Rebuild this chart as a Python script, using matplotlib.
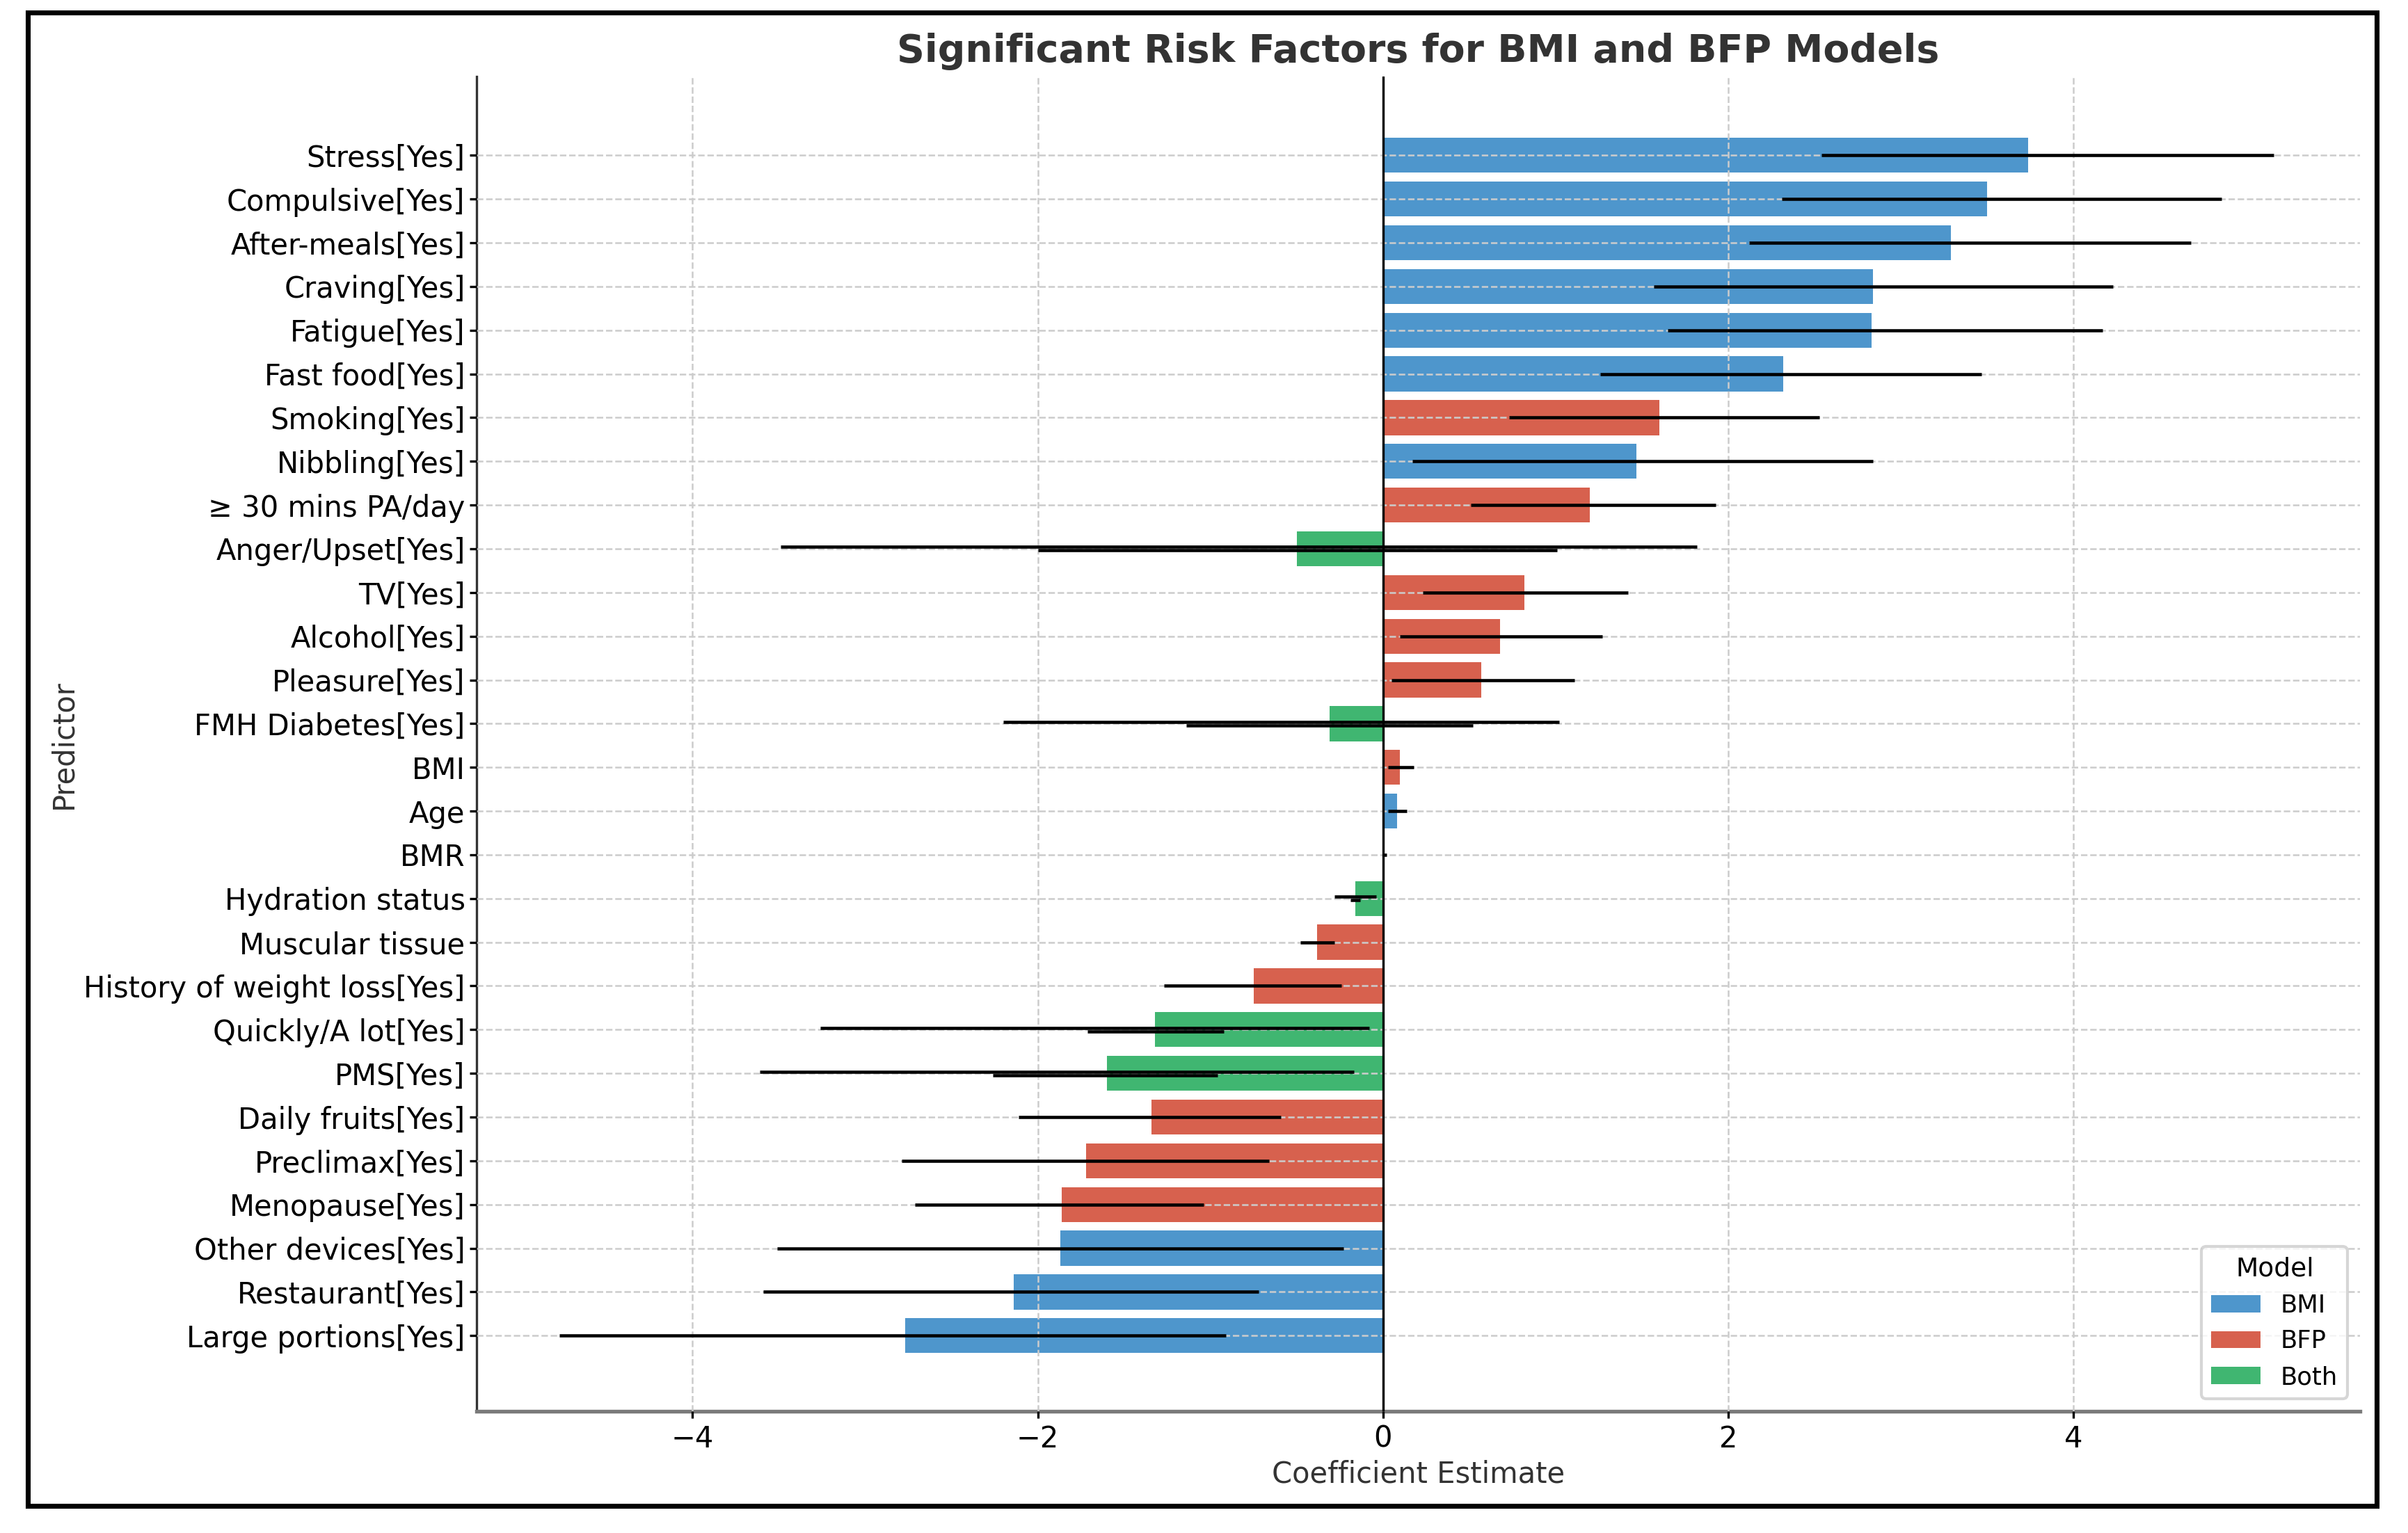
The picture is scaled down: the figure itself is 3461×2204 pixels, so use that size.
import matplotlib
matplotlib.use("Agg")
import matplotlib.pyplot as plt
from matplotlib.patches import Patch, Rectangle

PREDICTORS = [
    "Stress[Yes]", "Compulsive[Yes]", "After-meals[Yes]", "Craving[Yes]",
    "Fatigue[Yes]", "Fast food[Yes]", "Smoking[Yes]", "Nibbling[Yes]",
    "\u2265 30 mins PA/day", "Anger/Upset[Yes]", "TV[Yes]", "Alcohol[Yes]",
    "Pleasure[Yes]", "FMH Diabetes[Yes]", "BMI", "Age", "BMR",
    "Hydration status", "Muscular tissue", "History of weight loss[Yes]",
    "Quickly/A lot[Yes]", "PMS[Yes]", "Daily fruits[Yes]", "Preclimax[Yes]",
    "Menopause[Yes]", "Other devices[Yes]", "Restaurant[Yes]",
    "Large portions[Yes]",
]
MODELS = [
    "BMI", "BMI", "BMI", "BMI", "BMI", "BMI", "BFP", "BMI", "BFP", "Both",
    "BFP", "BFP", "BFP", "Both", "BFP", "BMI", "BMI", "Both", "BFP", "BFP",
    "Both", "Both", "BFP", "BFP", "BFP", "BMI", "BMI", "BMI",
]
ESTIMATES = [
    3.74, 3.50, 3.29, 2.84, 2.83, 2.32, 1.60, 1.47, 1.20, -0.50,
    0.82, 0.68, 0.57, -0.31, 0.10, 0.08, 0.01, -0.16, -0.38, -0.75,
    -1.32, -1.60, -1.34, -1.72, -1.86, -1.87, -2.14, -2.77,
]
CI_LOW = [
    2.54, 2.31, 2.12, 1.57, 1.65, 1.26, 0.73, 0.17, 0.51, -3.49,
    0.23, 0.10, 0.05, -2.20, 0.03, 0.03, 0.00, -0.28, -0.48, -1.27,
    -3.26, -3.61, -2.11, -2.79, -2.71, -3.51, -3.59, -4.77,
]
CI_HIGH = [
    5.16, 4.86, 4.68, 4.23, 4.17, 3.47, 2.53, 2.84, 1.93, 1.82,
    1.42, 1.27, 1.11, 1.02, 0.18, 0.14, 0.02, -0.04, -0.28, -0.24,
    -0.08, -0.17, -0.59, -0.66, -1.04, -0.23, -0.72, -0.91,
]
# second interval, only for predictors kept in both models
CI2_LOW = [None] * 9 + [-2.00] + [None] * 3 + [-1.14] + [None] * 3 + [-0.19] + [None] * 2 + [-1.71, -2.26] + [None] * 6
CI2_HIGH = [None] * 9 + [1.01] + [None] * 3 + [0.52] + [None] * 3 + [-0.13] + [None] * 2 + [-0.92, -0.96] + [None] * 6

COLORS = {"BMI": "#3F8DC8", "BFP": "#D4533F", "Both": "#2FB065"}

plt.rcParams["font.family"] = ["DejaVu Sans"]

fig = plt.figure(figsize=(3461 / 300, 2204 / 300), dpi=300)
fig.patch.set_facecolor("white")
ax = fig.add_axes([0.198, 0.0794, 0.782, 0.8706])

ypos = list(range(len(PREDICTORS)))
ax.barh(ypos, ESTIMATES, height=0.8, color=[COLORS[m] for m in MODELS],
        alpha=0.92, zorder=2)

for y, est, lo, hi, lo2, hi2 in zip(ypos, ESTIMATES, CI_LOW, CI_HIGH, CI2_LOW, CI2_HIGH):
    if lo2 is None:
        ax.errorbar(est, y, xerr=[[est - lo], [hi - est]], fmt="none",
                    ecolor="black", elinewidth=1.1, capsize=0, zorder=3)
    else:
        ax.errorbar(est, y - 0.04, xerr=[[est - lo], [hi - est]], fmt="none",
                    ecolor="black", elinewidth=1.1, capsize=0, zorder=3)
        ax.errorbar(est, y + 0.04, xerr=[[est - lo2], [hi2 - est]], fmt="none",
                    ecolor="black", elinewidth=1.1, capsize=0, zorder=3)

ax.axvline(0, color="black", linewidth=0.8, zorder=4)

ax.set_yticks(ypos)
ax.set_yticklabels(PREDICTORS, fontsize=10)
ax.set_xticks([-4, -2, 0, 2, 4])
ax.tick_params(axis="x", labelsize=10, length=2.5, pad=2)
ax.tick_params(axis="y", length=2.5, pad=1.5)
ax.set_xlim(-5.25, 5.66)
ax.set_ylim(len(PREDICTORS) - 1 + 1.73, -1.80)

ax.grid(True, axis="both", color="#cccccc", linestyle="--", linewidth=0.6, zorder=1)
ax.set_axisbelow(False)

for spine in ("top", "right"):
    ax.spines[spine].set_visible(False)
ax.spines["left"].set_color("#333333")
ax.spines["left"].set_linewidth(0.8)
ax.spines["bottom"].set_color("#7a7a7a")
ax.spines["bottom"].set_linewidth(1.3)

ax.set_xlabel("Coefficient Estimate", fontsize=10, color="#333333", labelpad=2)
ax.set_ylabel("Predictor", fontsize=10, color="#333333", labelpad=2)
ax.set_title("Significant Risk Factors for BMI and BFP Models",
             fontsize=13.3, fontweight="bold", color="#333333", pad=5)

handles = [Patch(facecolor=COLORS[m], alpha=0.92, label=m) for m in ("BMI", "BFP", "Both")]
leg = ax.legend(handles=handles, title="Model", loc="lower right",
                fontsize=8.5, title_fontsize=9, frameon=True)
leg.get_frame().set_edgecolor("#cccccc")

fig.patches.append(Rectangle((0.0115, 0.0175), 0.9755, 0.9745, transform=fig.transFigure,
                             fill=False, edgecolor="black", linewidth=1.7))

fig.savefig("out.png", dpi=300, facecolor="white")
